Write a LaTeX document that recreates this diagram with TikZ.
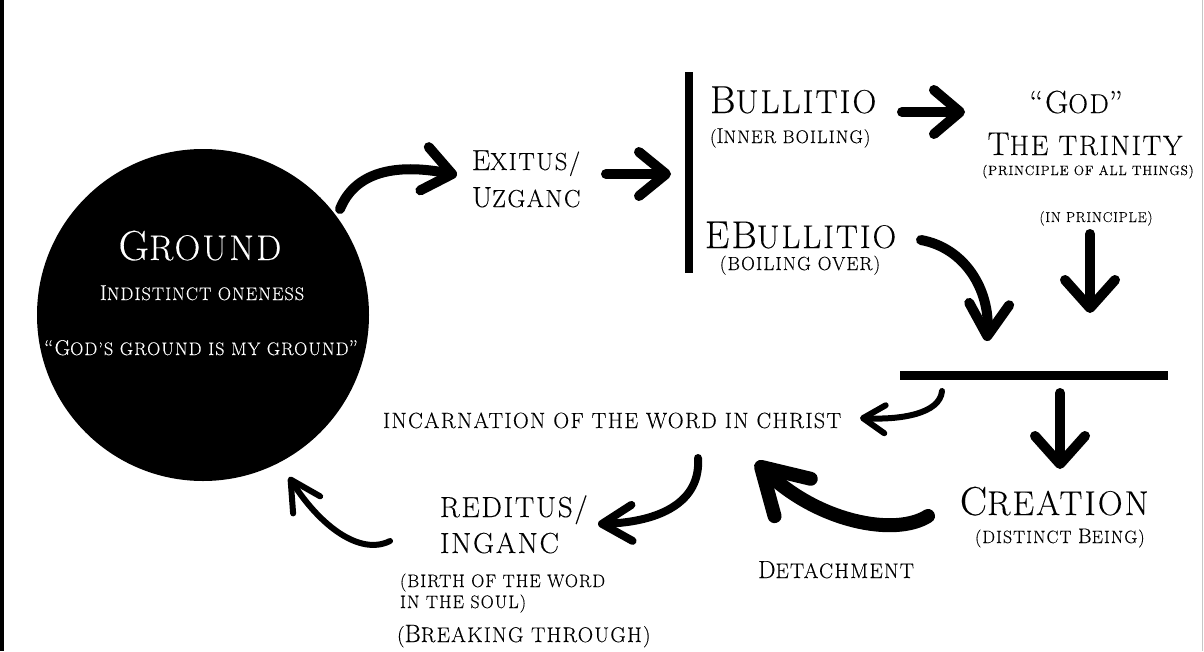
\documentclass[tikz,border=0pt]{standalone}
\usepackage{fontspec}
\setmainfont{Latin Modern Roman}[LetterSpace=6,FakeBold=0.2]
\usetikzlibrary{arrows.meta}
\makeatletter
\newcommand\sm[1]{{\fontsize{\the\dimexpr\f@size pt*85/100\relax}{\f@baselineskip}\selectfont\MakeUppercase{#1}}}
\makeatother
\newcommand\fs[1]{\fontsize{#1}{#1}\selectfont}
\begin{document}
\begin{tikzpicture}[x=1pt,y=-1pt,
  txt/.style={inner sep=0pt, outer sep=0pt, text=black},
  wtxt/.style={inner sep=0pt, outer sep=0pt, text=white},
  bar/.style={fill=black, inner sep=0pt, outer sep=0pt},
  arr/.style n args={3}{line width=#1, line cap=round, -{Straight Barb[round,length=#2,width=#3]}},
]
\useasboundingbox (0,0) rectangle (1204,651);
\fill[white] (0,0) rectangle (1204,651);
\fill[black] (0,0) rectangle (4,651);
\draw[gray!45, line width=1.5pt] (1202.5,0) -- (1202.5,651);

% Ground
\node[circle, fill=black, minimum size=332pt, inner sep=0pt] (ground) at (203,315) {};
\node[wtxt, anchor=base, font=\fs{42}] (groundT) at (200,260) {G\sm{round}};
\node[wtxt, anchor=base, font=\fs{21.4}] (oneness) at (202,300) {I\sm{ndistinct oneness}};
\node[wtxt, anchor=base, font=\fs{21.4}] (godsground) at (201,355) {“G\sm{od’s ground is my ground}”};

% Exitus
\node[txt, anchor=base west, font=\fs{29}] (exitus) at (472,170) {E\sm{xitus/}};
\node[txt, anchor=base west, font=\fs{29}] (uzganc) at (472,207) {U\sm{zganc}};

% bars
\node[bar, minimum width=8pt, minimum height=201pt] (bar1) at (689,172.5) {};
\node[bar, minimum width=268pt, minimum height=9pt] (bar2) at (1034,375) {};

% Bullitio
\node[txt, anchor=base west, font=\fs{39}] (bullitio) at (710,113) {B\sm{ullitio}};
\node[txt, anchor=base west, font=\fs{21.5}] (inner) at (710,143) {\sm{(}I\sm{nner boiling)}};
\node[txt, anchor=base west, font=\fs{38.6}] (ebullitio) at (705,248) {EB\sm{ullitio}};
\node[txt, anchor=base, font=\fs{19}] (boiling) at (800,270) {(BOILING OVER)};

% God
\node[txt, anchor=base, font=\fs{32}] (god) at (1076,113) {“G\sm{od}”};
\node[txt, anchor=base, font=\fs{33}] (trinity) at (1085,155) {T\sm{he trinity}};
\node[txt, anchor=base, font=\fs{13.5}] (principle) at (1088,175) {(PRINCIPLE OF ALL THINGS)};
\node[txt, anchor=base, font=\fs{14.3}] (inprinciple) at (1096,222) {(IN PRINCIPLE)};

% Creation
\node[txt, anchor=base west, font=\fs{40.5}] (creation) at (960,515) {C\sm{reation}};
\node[txt, anchor=base west, font=\fs{21}] (distinct) at (975,543) {\sm{(distinct }B\sm{eing)}};

% lower texts
\node[txt, anchor=base west, font=\fs{22}] (incarnation) at (383,428) {INCARNATION OF THE WORD IN CHRIST};
\node[txt, anchor=base west, font=\fs{29}] (reditus) at (440,517) {REDITUS/};
\node[txt, anchor=base west, font=\fs{29}] (inganc) at (440,553) {INGANC};
\node[txt, anchor=base west, font=\fs{18}] (birth1) at (400,587) {(BIRTH OF THE WORD};
\node[txt, anchor=base west, font=\fs{18}] (birth2) at (400,608) {IN THE SOUL)};
\node[txt, anchor=base west, font=\fs{25}] (breaking) at (397,642) {\sm{(}B\sm{reaking through)}};
\node[txt, anchor=base west, font=\fs{24.8}] (detachment) at (758,578) {D\sm{etachment}};

% connector end points
\coordinate (a1s) at (340,209);  \coordinate (a1e) at (457,175);
\coordinate (a2s) at (606,174);  \coordinate (a2e) at (671,174);
\coordinate (a3s) at (902,112);  \coordinate (a3e) at (965,112);
\coordinate (a4s) at (921,240);  \coordinate (a4e) at (987,341);
\coordinate (a5s) at (1090,234); \coordinate (a5e) at (1090,313);
\coordinate (a6s) at (942,391);  \coordinate (a6e) at (860,418);
\coordinate (a7s) at (1060,393); \coordinate (a7e) at (1060,469);
\coordinate (a8s) at (928,516);  \coordinate (a8e) at (756,462);
\coordinate (a9s) at (698,458);  \coordinate (a9e) at (598,524);
\coordinate (a10s) at (390,541); \coordinate (a10e) at (289,477);

% connectors
\draw[arr={10pt}{28pt}{44pt}] (a1s) .. controls (355,172) and (395,163) .. (a1e);
\draw[arr={10pt}{27pt}{44pt}] (a2s) -- (a2e);
\draw[arr={10pt}{26pt}{44pt}] (a3s) -- (a3e);
\draw[arr={10pt}{32pt}{40pt}] (a4s) .. controls (965,248) and (990,290) .. (a4e);
\draw[arr={10pt}{28pt}{50pt}] (a5s) -- (a5e);
\draw[arr={6pt}{22pt}{28pt}] (a6s) .. controls (940,414) and (900,420) .. (a6e);
\draw[arr={10pt}{28pt}{50pt}] (a7s) -- (a7e);
\draw[arr={14pt}{44pt}{52pt}] (a8s) .. controls (895,537) and (818,522) .. (a8e);
\draw[arr={8pt}{30pt}{36pt}] (a9s) .. controls (701,502) and (660,522) .. (a9e);
\draw[arr={6pt}{30pt}{32pt}] (a10s) .. controls (360,556) and (320,526) .. (a10e);
\end{tikzpicture}
\end{document}
